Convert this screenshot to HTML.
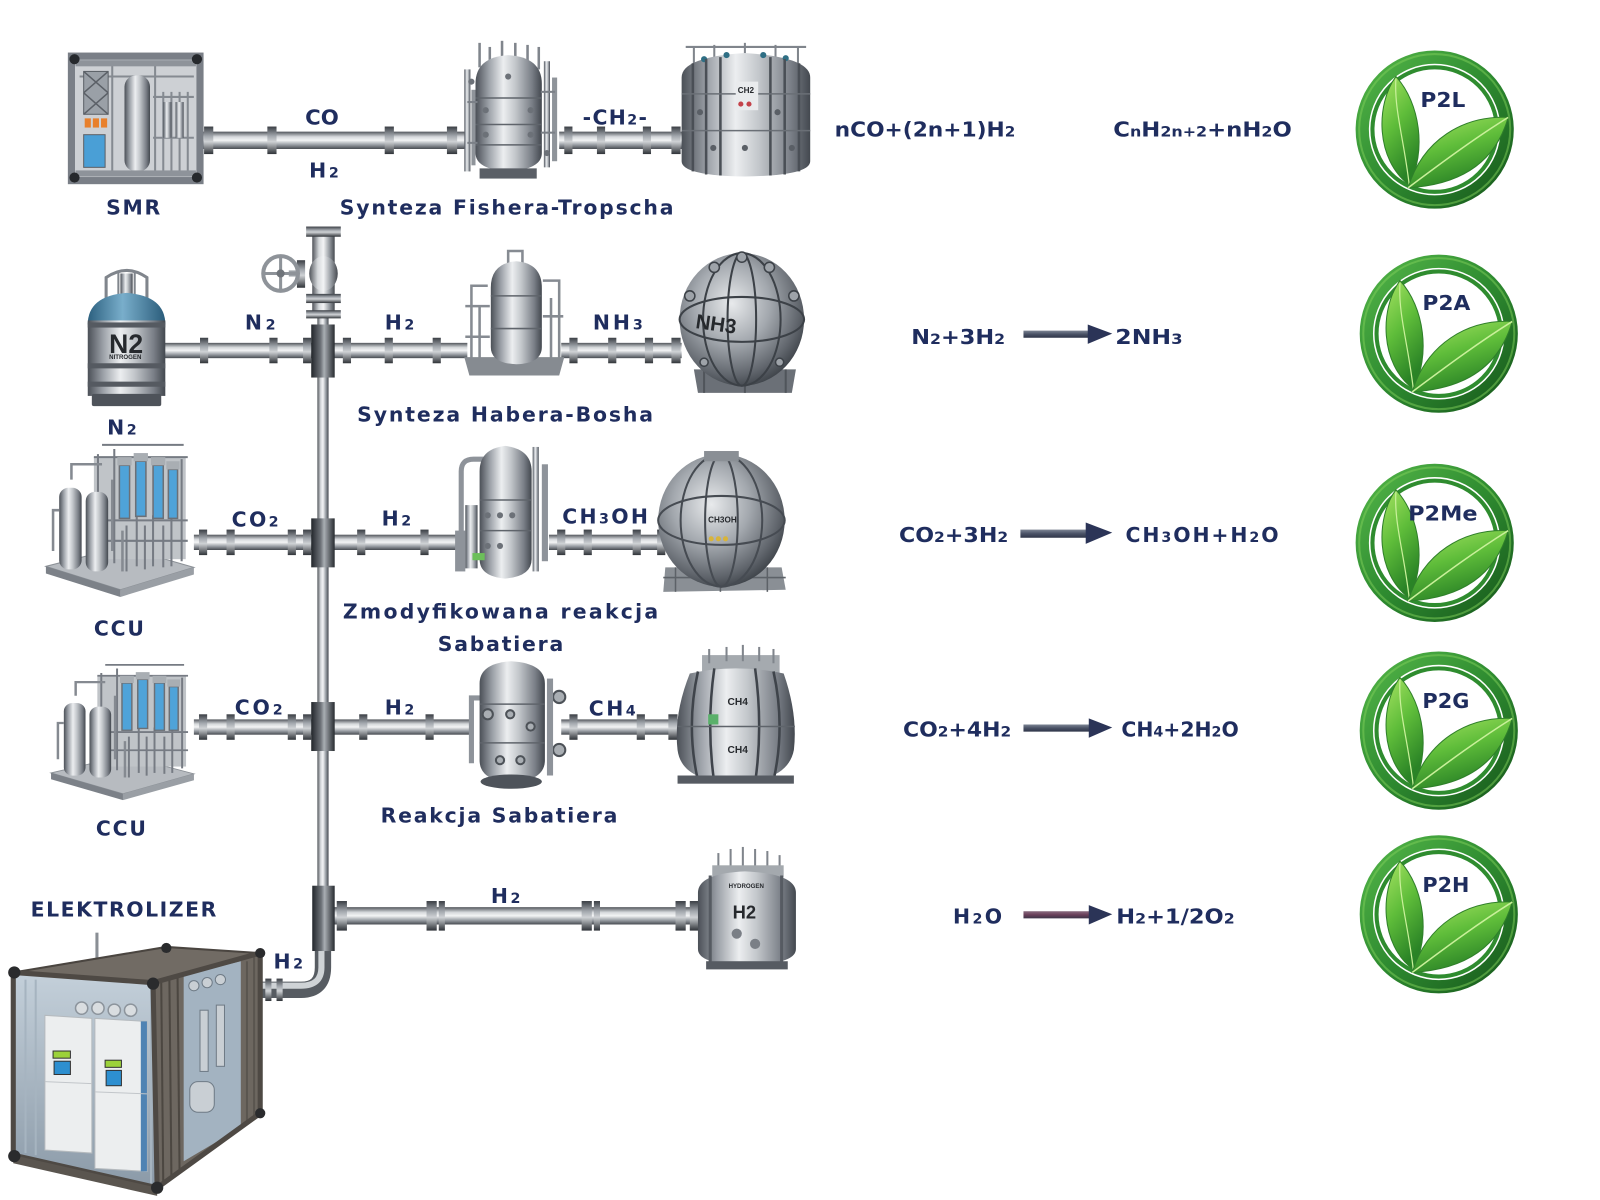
<!DOCTYPE html>
<html><head><meta charset="utf-8">
<style>
html,body{margin:0;padding:0;background:#fff;overflow:hidden;}
svg{display:block;}
.t{font-family:"DejaVu Sans","Liberation Sans",sans-serif;font-weight:bold;fill:#1f2d5e;font-size:20px;}
.s{font-size:14px;}
.m{font-family:"Liberation Sans",Arial,sans-serif;font-weight:bold;fill:#26292d;}
</style></head><body>
<svg width="1600" height="1200" viewBox="0 0 1568 1176" xmlns="http://www.w3.org/2000/svg">
<defs>
 <linearGradient id="pipe" x1="0" y1="0" x2="0" y2="1">
  <stop offset="0" stop-color="#50545a"/><stop offset="0.3" stop-color="#d6d9dc"/><stop offset="0.5" stop-color="#f3f4f5"/><stop offset="0.75" stop-color="#9ba0a6"/><stop offset="1" stop-color="#464a50"/>
 </linearGradient>
 <linearGradient id="pipeV" x1="0" y1="0" x2="1" y2="0">
  <stop offset="0" stop-color="#50545a"/><stop offset="0.3" stop-color="#d6d9dc"/><stop offset="0.5" stop-color="#f3f4f5"/><stop offset="0.75" stop-color="#9ba0a6"/><stop offset="1" stop-color="#464a50"/>
 </linearGradient>
 <linearGradient id="fl" x1="0" y1="0" x2="0" y2="1">
  <stop offset="0" stop-color="#3a3e44"/><stop offset="0.35" stop-color="#a3a8ae"/><stop offset="0.55" stop-color="#cfd2d5"/><stop offset="1" stop-color="#2f3338"/>
 </linearGradient>
 <linearGradient id="tee" x1="0" y1="0" x2="1" y2="0">
  <stop offset="0" stop-color="#22262b"/><stop offset="0.4" stop-color="#6c7177"/><stop offset="0.55" stop-color="#a9aeb3"/><stop offset="1" stop-color="#272b30"/>
 </linearGradient>
 <linearGradient id="cyl" x1="0" y1="0" x2="1" y2="0">
  <stop offset="0" stop-color="#4b5057"/><stop offset="0.2" stop-color="#9ca1a8"/><stop offset="0.42" stop-color="#eceef0"/><stop offset="0.6" stop-color="#c3c7cb"/><stop offset="0.85" stop-color="#7a7f87"/><stop offset="1" stop-color="#43484f"/>
 </linearGradient>
 <radialGradient id="sph" cx="0.42" cy="0.38" r="0.68">
  <stop offset="0" stop-color="#e8eaec"/><stop offset="0.45" stop-color="#a3a8ae"/><stop offset="0.8" stop-color="#60656c"/><stop offset="1" stop-color="#353a40"/>
 </radialGradient>
 <linearGradient id="blue" x1="0" y1="0" x2="1" y2="0">
  <stop offset="0" stop-color="#2c607f"/><stop offset="0.45" stop-color="#79aecb"/><stop offset="1" stop-color="#2a5c7a"/>
 </linearGradient>
 <linearGradient id="ring" x1="0" y1="0" x2="1" y2="1">
  <stop offset="0" stop-color="#53b548"/><stop offset="0.5" stop-color="#2e8b30"/><stop offset="1" stop-color="#185a1c"/>
 </linearGradient>
 <linearGradient id="leaf" x1="0" y1="0" x2="0.4" y2="1">
  <stop offset="0" stop-color="#a6e362"/><stop offset="0.5" stop-color="#5fbd3a"/><stop offset="1" stop-color="#2a8326"/>
 </linearGradient>
 <linearGradient id="arr" x1="0" y1="0" x2="0" y2="1">
  <stop offset="0" stop-color="#7d8594"/><stop offset="0.5" stop-color="#4a5266"/><stop offset="1" stop-color="#2e3548"/>
 </linearGradient>
 <linearGradient id="arrR" x1="0" y1="0" x2="0" y2="1">
  <stop offset="0" stop-color="#8a6d80"/><stop offset="0.5" stop-color="#6a3f5a"/><stop offset="1" stop-color="#3c3448"/>
 </linearGradient>
 <linearGradient id="inside" x1="0" y1="0" x2="0" y2="1">
  <stop offset="0" stop-color="#c4d0da"/><stop offset="1" stop-color="#8b9aa8"/>
 </linearGradient>

 <g id="logo">
  <circle r="71" fill="#fff" stroke="url(#ring)" stroke-width="13"/>
  <circle r="74" fill="none" stroke="#7fd05a" stroke-width="2" opacity="0.5"/>
  <circle r="61" fill="none" stroke="#2f8c2f" stroke-width="4"/>
  <path d="M-25 54 C-58 30,-58 -25,-38 -52 C-14 -26,-8 22,-25 54 Z" fill="url(#leaf)" stroke="#2f7f2a" stroke-width="1"/>
  <path d="M-25 54 C-30 10,-40 -20,-38 -50" fill="none" stroke="#c9f09a" stroke-width="1.2"/>
  <path d="M-26 57 C-12 10,28 -14,72 -12 C60 30,28 54,-26 57 Z" fill="url(#leaf)" stroke="#2f7f2a" stroke-width="1"/>
  <path d="M-26 57 C10 30,40 8,72 -12" fill="none" stroke="#c9f09a" stroke-width="1.5"/>
 </g>

 <g id="ccu">
  <polygon points="45,555 118,578 190,556 120,536" fill="#b7bbc0" stroke="#8b9096"/>
  <polygon points="45,555 118,578 118,585 45,562" fill="#7c8188"/>
  <polygon points="118,578 190,556 190,563 118,585" fill="#9a9fa5"/>
  <rect x="92" y="448" width="90" height="100" fill="#c0c4c8"/>
  <g stroke="#767b83" stroke-width="2">
   <line x1="96" y1="445" x2="96" y2="550"/><line x1="112" y1="440" x2="112" y2="552"/>
   <line x1="178" y1="450" x2="178" y2="550"/><line x1="168" y1="505" x2="168" y2="555"/>
   <line x1="150" y1="505" x2="150" y2="555"/><line x1="134" y1="505" x2="134" y2="555"/>
   <line x1="92" y1="448" x2="184" y2="448"/><line x1="92" y1="510" x2="184" y2="510"/>
   <line x1="92" y1="530" x2="184" y2="530"/><line x1="100" y1="436" x2="180" y2="436"/>
   <line x1="124" y1="515" x2="124" y2="560"/><line x1="142" y1="515" x2="142" y2="558"/><line x1="160" y1="515" x2="160" y2="556"/>
  </g>
  <g fill="#4fa3d9" stroke="#6b7077" stroke-width="1.5">
   <rect x="117" y="456" width="10" height="52"/><rect x="133" y="452" width="10" height="54"/>
   <rect x="150" y="456" width="10" height="52"/><rect x="165" y="460" width="9" height="48"/>
  </g>
  <g fill="#a9aeb3"><rect x="115" y="448" width="14" height="8"/><rect x="131" y="444" width="14" height="8"/><rect x="148" y="448" width="14" height="8"/><rect x="163" y="452" width="13" height="8"/></g>
  <rect x="58" y="478" width="22" height="80" rx="9" fill="url(#cyl)"/>
  <rect x="84" y="482" width="22" height="78" rx="9" fill="url(#cyl)"/>
  <g stroke="#858a91" stroke-width="2.5" fill="none">
   <path d="M52 540 V500 H58"/><path d="M110 470 V540"/><path d="M120 520 V560"/><path d="M70 470 V455 H100"/>
  </g>
 </g>
</defs>

<!-- ================= PIPES ================= -->
<rect x="311" y="300" width="11" height="630" fill="url(#pipeV)"/>
<path d="M316.5 925 V948 Q316.5 970 295 970 H252" fill="none" stroke="#575c62" stroke-width="16"/>
<path d="M315 925 V948 Q315 966 295 966 H252" fill="none" stroke="#cfd3d6" stroke-width="6"/>
<rect x="260" y="959" width="6" height="22" fill="url(#fl)"/><rect x="271" y="959" width="6" height="22" fill="url(#fl)"/>

<rect x="195" y="129" width="262" height="17" fill="url(#pipe)"/>
<rect x="548" y="129" width="122" height="17" fill="url(#pipe)"/>
<g fill="url(#fl)">
 <rect x="200" y="124" width="9" height="27"/><rect x="262" y="124" width="9" height="27"/><rect x="377" y="124" width="9" height="27"/><rect x="438" y="124" width="10" height="27"/>
 <rect x="553" y="124" width="8" height="27"/><rect x="585" y="124" width="8" height="27"/><rect x="630" y="124" width="8" height="27"/><rect x="658" y="124" width="9" height="27"/>
</g>
<rect x="160" y="336" width="298" height="15" fill="url(#pipe)"/>
<rect x="550" y="336" width="118" height="15" fill="url(#pipe)"/>
<g fill="url(#fl)">
 <rect x="196" y="331" width="8" height="25"/><rect x="264" y="331" width="8" height="25"/><rect x="297" y="331" width="8" height="25"/><rect x="336" y="331" width="8" height="25"/><rect x="377" y="331" width="8" height="25"/><rect x="424" y="331" width="8" height="25"/>
 <rect x="558" y="331" width="8" height="25"/><rect x="596" y="331" width="8" height="25"/><rect x="632" y="331" width="8" height="25"/><rect x="658" y="331" width="9" height="25"/>
</g>
<rect x="190" y="524" width="262" height="15" fill="url(#pipe)"/>
<rect x="538" y="524" width="115" height="15" fill="url(#pipe)"/>
<g fill="url(#fl)">
 <rect x="195" y="519" width="8" height="25"/><rect x="222" y="519" width="8" height="25"/><rect x="282" y="519" width="8" height="25"/><rect x="297" y="519" width="8" height="25"/><rect x="350" y="519" width="8" height="25"/><rect x="412" y="519" width="8" height="25"/>
 <rect x="546" y="519" width="8" height="25"/><rect x="572" y="519" width="8" height="25"/><rect x="620" y="519" width="8" height="25"/><rect x="644" y="519" width="8" height="25"/>
</g>
<rect x="190" y="705" width="274" height="15" fill="url(#pipe)"/>
<rect x="550" y="705" width="116" height="15" fill="url(#pipe)"/>
<g fill="url(#fl)">
 <rect x="195" y="700" width="8" height="25"/><rect x="222" y="700" width="8" height="25"/><rect x="282" y="700" width="8" height="25"/><rect x="297" y="700" width="8" height="25"/><rect x="352" y="700" width="8" height="25"/><rect x="417" y="700" width="8" height="25"/>
 <rect x="558" y="700" width="8" height="25"/><rect x="624" y="700" width="8" height="25"/><rect x="655" y="700" width="9" height="25"/>
</g>
<rect x="320" y="889" width="370" height="17" fill="url(#pipe)"/>
<g fill="url(#fl)">
 <rect x="330" y="883" width="10" height="29"/><rect x="418" y="883" width="10" height="29"/><rect x="430" y="883" width="6" height="29"/>
 <rect x="570" y="883" width="10" height="29"/><rect x="582" y="883" width="6" height="29"/><rect x="662" y="883" width="10" height="29"/><rect x="676" y="883" width="10" height="29"/>
</g>
<rect x="305" y="318" width="23" height="52" fill="url(#tee)"/>
<rect x="305" y="508" width="23" height="48" fill="url(#tee)"/>
<rect x="305" y="688" width="23" height="48" fill="url(#tee)"/>
<rect x="306" y="868" width="22" height="64" fill="url(#tee)"/>

<rect x="306" y="230" width="22" height="80" fill="url(#pipeV)"/>
<ellipse cx="317" cy="268" rx="14" ry="17" fill="url(#pipeV)"/>
<rect x="300" y="222" width="34" height="10" fill="url(#fl)"/>
<rect x="300" y="288" width="34" height="9" fill="url(#fl)"/>
<rect x="300" y="304" width="34" height="8" fill="url(#fl)"/>
<rect x="291" y="255" width="8" height="27" fill="url(#fl)"/>
<rect x="283" y="265" width="10" height="6" fill="#9ca1a7"/>
<circle cx="275" cy="268" r="17" fill="none" stroke="#8e9399" stroke-width="4"/>
<g stroke="#8e9399" stroke-width="3"><line x1="258" y1="268" x2="292" y2="268"/><line x1="275" y1="251" x2="275" y2="285"/></g>
<circle cx="275" cy="268" r="4" fill="#6f747a"/>

<!-- ================= EQUIPMENT ================= -->
<g>
 <rect x="70" y="55" width="126" height="122" fill="#cdd0d4"/>
 <g stroke="#858a91" stroke-width="2">
  <line x1="110" y1="62" x2="110" y2="170"/><line x1="152" y1="62" x2="152" y2="170"/><line x1="160" y1="90" x2="160" y2="170"/>
  <line x1="168" y1="90" x2="168" y2="170"/><line x1="176" y1="90" x2="176" y2="170"/><line x1="184" y1="90" x2="184" y2="170"/>
  <line x1="150" y1="95" x2="190" y2="95"/><line x1="150" y1="135" x2="190" y2="135"/><line x1="78" y1="75" x2="190" y2="75"/>
 </g>
 <rect x="160" y="100" width="8" height="35" fill="url(#cyl)"/><rect x="172" y="100" width="8" height="35" fill="url(#cyl)"/>
 <rect x="82" y="70" width="24" height="42" fill="#9aa0a7" stroke="#5b6067"/>
 <path d="M82 70 L106 91 M106 70 L82 91 M82 91 L106 112 M106 91 L82 112" stroke="#5b6067" stroke-width="1.5"/>
 <rect x="83" y="116" width="6" height="9" fill="#e8802c"/><rect x="91" y="116" width="6" height="9" fill="#e8802c"/><rect x="99" y="116" width="6" height="9" fill="#e8802c"/>
 <rect x="82" y="132" width="21" height="32" fill="#4a9fd6" stroke="#5b6067"/>
 <rect x="122" y="74" width="25" height="94" rx="11" fill="url(#cyl)"/>
 <rect x="70" y="55" width="126" height="122" fill="none" stroke="#7a7f87" stroke-width="7"/>
 <rect x="74" y="59" width="118" height="6" fill="#8e939a"/><rect x="74" y="167" width="118" height="6" fill="#8e939a"/>
 <g fill="#26292d"><circle cx="73" cy="58" r="5"/><circle cx="193" cy="58" r="5"/><circle cx="73" cy="174" r="5"/><circle cx="193" cy="174" r="5"/></g>
</g>

<g>
 <g stroke="#80858c" stroke-width="2.5">
  <line x1="470" y1="42" x2="470" y2="66"/><line x1="480" y1="46" x2="480" y2="60"/><line x1="492" y1="40" x2="492" y2="58"/><line x1="505" y1="42" x2="505" y2="58"/><line x1="517" y1="44" x2="517" y2="60"/><line x1="528" y1="46" x2="528" y2="68"/>
 </g>
 <rect x="455" y="68" width="6" height="100" fill="url(#cyl)"/><rect x="462" y="88" width="4" height="74" fill="#8f949a"/>
 <rect x="533" y="60" width="6" height="104" fill="url(#cyl)"/><rect x="541" y="76" width="5" height="82" fill="#8f949a"/>
 <path d="M466 82 Q466 56 498 54 Q531 56 531 82 V150 Q531 166 498 168 Q466 166 466 150 Z" fill="url(#cyl)"/>
 <g stroke="#5f646b" stroke-width="1.5"><line x1="466" y1="96" x2="531" y2="96"/><line x1="466" y1="122" x2="531" y2="122"/><line x1="466" y1="142" x2="531" y2="142"/></g>
 <g fill="#6c7178"><circle cx="476" cy="108" r="3"/><circle cx="520" cy="108" r="3"/><circle cx="476" cy="132" r="3"/><circle cx="520" cy="132" r="3"/><circle cx="498" cy="75" r="3"/><circle cx="462" cy="80" r="3"/><circle cx="536" cy="150" r="3"/></g>
 <g stroke="#7b8087" stroke-width="2" fill="none"><path d="M458 100 H468"/><path d="M458 140 H468"/><path d="M530 90 H544"/><path d="M530 130 H544"/></g>
 <rect x="470" y="165" width="56" height="10" fill="#5a5f66"/>
</g>

<g>
 <line x1="672" y1="46" x2="790" y2="46" stroke="#80858c" stroke-width="2"/>
 <g stroke="#80858c" stroke-width="2"><line x1="680" y1="46" x2="680" y2="62"/><line x1="700" y1="44" x2="700" y2="58"/><line x1="730" y1="42" x2="730" y2="56"/><line x1="760" y1="44" x2="760" y2="58"/><line x1="782" y1="46" x2="782" y2="62"/></g>
 <path d="M668 76 Q668 56 730 52 Q794 56 794 76 V158 Q794 172 730 173 Q668 172 668 158 Z" fill="url(#cyl)"/>
 <g fill="#2f6f85"><circle cx="690" cy="58" r="3"/><circle cx="712" cy="54" r="3"/><circle cx="748" cy="54" r="3"/><circle cx="770" cy="57" r="3"/></g>
 <g stroke="#4a4f56" stroke-width="2.5"><line x1="679" y1="62" x2="679" y2="168"/><line x1="692" y1="58" x2="692" y2="171"/><line x1="706" y1="56" x2="706" y2="172"/><line x1="755" y1="56" x2="755" y2="172"/><line x1="769" y1="58" x2="769" y2="171"/><line x1="783" y1="62" x2="783" y2="168"/></g>
 <g stroke="#6a6f76" stroke-width="1.5"><line x1="668" y1="92" x2="794" y2="92"/><line x1="668" y1="128" x2="794" y2="128"/></g>
 <g fill="#5a5f66"><circle cx="686" cy="110" r="3"/><circle cx="699" cy="145" r="3"/><circle cx="762" cy="110" r="3"/><circle cx="776" cy="145" r="3"/><circle cx="730" cy="145" r="3"/></g>
 <rect x="721" y="80" width="22" height="28" fill="#e9ebed"/>
 <text class="m" x="723" y="91" font-size="8">CH2</text>
 <g fill="#c4424a"><circle cx="726" cy="102" r="2.5"/><circle cx="734" cy="102" r="2.5"/></g>
</g>

<g>
 <path d="M104 292 V272 Q124 258 144 272 V292" fill="none" stroke="#80858c" stroke-width="3"/>
 <line x1="116" y1="292" x2="116" y2="266" stroke="#80858c" stroke-width="2"/><line x1="132" y1="292" x2="132" y2="266" stroke="#80858c" stroke-width="2"/>
 <rect x="118" y="268" width="12" height="20" fill="url(#cyl)"/>
 <path d="M86 318 Q86 290 124 287 Q162 290 162 318 Z" fill="url(#blue)"/>
 <rect x="86" y="314" width="76" height="74" fill="url(#cyl)"/>
 <rect x="86" y="316" width="76" height="5" fill="#555a61"/>
 <rect x="86" y="356" width="76" height="5" fill="#555a61"/>
 <rect x="86" y="374" width="76" height="5" fill="#555a61"/>
 <text class="m" x="107" y="346" font-size="26">N2</text>
 <text class="m" x="107" y="352" font-size="6">NITROGEN</text>
 <rect x="90" y="386" width="68" height="12" rx="2" fill="#4e535a"/>
</g>

<g>
 <g stroke="#868b92" stroke-width="2.5" fill="none">
  <path d="M462 355 V280 H478"/><path d="M470 355 V300"/><path d="M548 355 V275 H532"/><path d="M540 355 V292"/><path d="M498 262 V246 H512 V262"/>
  <path d="M456 300 H480"/><path d="M456 330 H480"/><path d="M532 310 H552"/>
 </g>
 <polygon points="455,350 553,350 548,368 460,368" fill="#868b91"/>
 <path d="M481 282 Q481 258 506 256 Q531 258 531 282 V340 Q531 356 506 357 Q481 356 481 340 Z" fill="url(#cyl)"/>
 <g stroke="#5f646b" stroke-width="1.5"><line x1="481" y1="290" x2="531" y2="290"/><line x1="481" y1="322" x2="531" y2="322"/></g>
</g>

<g>
 <polygon points="680,362 780,362 776,385 684,385" fill="#6b7077"/>
 <g stroke="#50555b" stroke-width="2"><line x1="690" y1="362" x2="690" y2="385"/><line x1="730" y1="362" x2="730" y2="385"/><line x1="770" y1="362" x2="770" y2="385"/></g>
 <ellipse cx="727" cy="313" rx="61" ry="65" fill="url(#sph)"/>
 <g fill="none" stroke="#3c4147" stroke-width="2">
  <ellipse cx="727" cy="313" rx="38" ry="65"/><ellipse cx="727" cy="313" rx="14" ry="65"/><ellipse cx="727" cy="313" rx="61" ry="22"/>
 </g>
 <g fill="#9ea3a9" stroke="#3c4147" stroke-width="1.5"><circle cx="700" cy="262" r="5"/><circle cx="727" cy="252" r="5"/><circle cx="754" cy="262" r="5"/><circle cx="676" cy="290" r="5"/><circle cx="778" cy="290" r="5"/><circle cx="690" cy="355" r="4"/><circle cx="764" cy="355" r="4"/></g>
 <text class="m" x="682" y="324" font-size="20" transform="rotate(8 700 316)">NH3</text>
</g>

<use href="#ccu"/>
<use href="#ccu" transform="translate(50 648) scale(0.966 0.89) translate(-45 -432)"/>

<g>
 <path d="M452 540 V462 Q452 450 464 450 H476" fill="none" stroke="#8e939a" stroke-width="5"/>
 <rect x="456" y="495" width="12" height="62" fill="url(#cyl)"/>
 <rect x="446" y="520" width="10" height="40" fill="#8e939a"/>
 <path d="M470 462 Q470 440 495 437 Q521 440 521 462 V548 Q521 565 495 567 Q470 565 470 548 Z" fill="url(#cyl)"/>
 <g stroke="#5f646b" stroke-width="1.5"><line x1="470" y1="490" x2="521" y2="490"/><line x1="470" y1="520" x2="521" y2="520"/></g>
 <g fill="#6c7178"><circle cx="478" cy="505" r="3"/><circle cx="490" cy="505" r="3"/><circle cx="502" cy="505" r="3"/><circle cx="478" cy="535" r="3"/><circle cx="490" cy="535" r="3"/></g>
 <rect x="522" y="438" width="6" height="122" fill="url(#cyl)"/><rect x="531" y="455" width="6" height="95" fill="#8e939a"/>
 <rect x="463" y="542" width="12" height="7" fill="#6cbf5a"/>
</g>

<g>
 <polygon points="652,556 766,556 770,578 650,580" fill="#8a8f95"/>
 <g stroke="#5d6268" stroke-width="1.5"><line x1="650" y1="566" x2="770" y2="566"/><line x1="662" y1="556" x2="662" y2="580"/><line x1="706" y1="556" x2="706" y2="580"/><line x1="752" y1="556" x2="752" y2="580"/></g>
 <ellipse cx="707" cy="510" rx="62" ry="65" fill="url(#sph)"/>
 <g fill="none" stroke="#464b52" stroke-width="2">
  <ellipse cx="707" cy="510" rx="40" ry="65"/><ellipse cx="707" cy="510" rx="16" ry="65"/><ellipse cx="707" cy="510" rx="62" ry="24"/>
 </g>
 <rect x="690" y="442" width="34" height="10" fill="#8a8f95"/>
 <text class="m" x="694" y="512" font-size="8">CH3OH</text>
 <g fill="#d8b43a"><circle cx="697" cy="528" r="2.5"/><circle cx="704" cy="528" r="2.5"/><circle cx="711" cy="528" r="2.5"/></g>
</g>

<g>
 <path d="M462 748 V684 H476" fill="none" stroke="#8e939a" stroke-width="5"/>
 <path d="M470 670 Q470 650 501 648 Q534 650 534 670 V745 Q534 765 501 767 Q470 765 470 745 Z" fill="url(#cyl)"/>
 <g stroke="#5f646b" stroke-width="1.5"><line x1="470" y1="690" x2="534" y2="690"/><line x1="470" y1="728" x2="534" y2="728"/></g>
 <g fill="#a9aeb3" stroke="#4d5258" stroke-width="2"><circle cx="548" cy="683" r="6"/><circle cx="548" cy="735" r="6"/><circle cx="478" cy="700" r="5"/><circle cx="490" cy="745" r="4"/><circle cx="510" cy="745" r="4"/><circle cx="500" cy="700" r="4"/><circle cx="520" cy="712" r="4"/></g>
 <rect x="536" y="665" width="6" height="95" fill="#8e939a"/>
 <ellipse cx="501" cy="766" rx="30" ry="7" fill="#4e535a"/>
</g>

<g>
 <rect x="688" y="642" width="76" height="22" fill="#a5aaaf"/>
 <g stroke="#80858c" stroke-width="2"><line x1="695" y1="636" x2="695" y2="650"/><line x1="712" y1="634" x2="712" y2="648"/><line x1="728" y1="632" x2="728" y2="648"/><line x1="744" y1="634" x2="744" y2="648"/><line x1="758" y1="636" x2="758" y2="650"/></g>
 <path d="M676 660 Q720 650 768 660 Q782 700 778 735 Q772 766 720 767 Q668 766 664 735 Q660 700 676 660 Z" fill="url(#cyl)"/>
 <g stroke="#3f444b" stroke-width="2.5" fill="none">
  <path d="M684 658 Q672 712 684 765"/><path d="M700 655 Q692 712 700 767"/><path d="M740 655 Q748 712 740 767"/><path d="M758 658 Q770 712 758 765"/>
 </g>
 <line x1="664" y1="712" x2="779" y2="712" stroke="#5f646b" stroke-width="1.5"/>
 <text class="m" x="713" y="691" font-size="10">CH4</text>
 <text class="m" x="713" y="738" font-size="10">CH4</text>
 <rect x="694" y="700" width="10" height="10" fill="#5ab06a"/>
 <rect x="664" y="760" width="114" height="8" fill="#565b62"/>
</g>

<g>
 <g stroke="#80858c" stroke-width="2"><line x1="704" y1="836" x2="704" y2="858"/><line x1="716" y1="832" x2="716" y2="856"/><line x1="728" y1="830" x2="728" y2="856"/><line x1="740" y1="832" x2="740" y2="856"/><line x1="752" y1="834" x2="752" y2="856"/><line x1="764" y1="838" x2="764" y2="860"/></g>
 <rect x="698" y="848" width="70" height="12" fill="#a4a9ae"/>
 <path d="M684 875 Q684 856 730 854 Q780 856 780 875 V930 Q780 945 730 946 Q684 945 684 930 Z" fill="url(#cyl)"/>
 <g stroke="#565b62" stroke-width="3"><line x1="696" y1="858" x2="696" y2="944"/><line x1="766" y1="858" x2="766" y2="944"/></g>
 <text class="m" x="718" y="900" font-size="18">H2</text>
 <text class="m" x="714" y="870" font-size="6">HYDROGEN</text>
 <g fill="#7a7f86"><circle cx="722" cy="915" r="5"/><circle cx="740" cy="925" r="5"/></g>
 <rect x="692" y="942" width="80" height="8" fill="#565b62"/>
</g>

<g>
 <line x1="95" y1="914" x2="95" y2="942" stroke="#8a8f95" stroke-width="3"/>
 <polygon points="13,953 150,963 154,1164 13,1132" fill="url(#inside)"/>
 <g stroke="#a6b4c0" stroke-width="2"><line x1="25" y1="960" x2="25" y2="1130"/><line x1="35" y1="960" x2="35" y2="1132"/><line x1="148" y1="965" x2="148" y2="1160"/></g>
 <g fill="#d9dde0" stroke="#8c949c" stroke-width="1.5"><circle cx="80" cy="988" r="6"/><circle cx="96" cy="988" r="6"/><circle cx="112" cy="990" r="6"/><circle cx="128" cy="990" r="6"/></g>
 <polygon points="44,995 90,998 90,1130 44,1127" fill="#eceeef" stroke="#b5babe"/>
 <polygon points="93,998 144,1001 144,1148 93,1145" fill="#eceeef" stroke="#b5babe"/>
 <polygon points="138,1001 144,1001 144,1148 138,1148" fill="#4f83b3"/>
 <line x1="44" y1="1060" x2="90" y2="1062" stroke="#c2c6ca"/><line x1="93" y1="1070" x2="144" y2="1072" stroke="#c2c6ca"/>
 <rect x="52" y="1030" width="17" height="7" fill="#9cd23a" stroke="#333"/>
 <rect x="53" y="1040" width="16" height="13" fill="#2d8fd0" stroke="#333"/>
 <rect x="103" y="1039" width="16" height="7" fill="#9cd23a" stroke="#333"/>
 <rect x="104" y="1049" width="15" height="15" fill="#2d8fd0" stroke="#333"/>
 <polygon points="150,963 255,934 255,1091 154,1164" fill="#6d6760"/>
 <g stroke="#4c4741" stroke-width="2"><line x1="158" y1="962" x2="160" y2="1160"/><line x1="166" y1="960" x2="168" y2="1155"/><line x1="174" y1="958" x2="176" y2="1150"/></g>
 <polygon points="180,956 236,942 236,1105 180,1138" fill="#a3b3c1"/>
 <g fill="#c9cfd4" stroke="#6f7b86" stroke-width="1"><circle cx="190" cy="966" r="5"/><circle cx="203" cy="963" r="5"/><circle cx="216" cy="960" r="5"/><rect x="186" y="1060" width="24" height="30" rx="8"/><rect x="196" y="990" width="8" height="60"/><rect x="212" y="985" width="8" height="60"/></g>
 <g stroke="#5a554f" stroke-width="2"><line x1="242" y1="942" x2="242" y2="1100"/><line x1="249" y1="938" x2="249" y2="1095"/></g>
 <polygon points="13,953 163,928 255,934 150,963" fill="#716b64" stroke="#4a4540" stroke-width="2"/>
 <polyline points="13,953 150,963 154,1164 13,1132 13,953" fill="none" stroke="#4e4944" stroke-width="5"/>
 <polyline points="150,963 255,934 255,1091 154,1164" fill="none" stroke="#4e4944" stroke-width="5"/>
 <polygon points="13,1132 154,1164 154,1172 13,1140" fill="#5a554f"/>
 <g fill="#2a2b2d"><circle cx="14" cy="953" r="6"/><circle cx="150" cy="964" r="6"/><circle cx="255" cy="934" r="5"/><circle cx="163" cy="929" r="5"/><circle cx="14" cy="1133" r="6"/><circle cx="154" cy="1164" r="6"/><circle cx="255" cy="1091" r="5"/></g>
</g>

<!-- ================= LOGOS ================= -->
<use href="#logo" transform="translate(1406 127)"/>
<use href="#logo" transform="translate(1410 327)"/>
<use href="#logo" transform="translate(1406 532)"/>
<use href="#logo" transform="translate(1410 716)"/>
<use href="#logo" transform="translate(1410 896)"/>

<!-- ================= ARROWS ================= -->
<rect x="1003" y="324" width="66" height="7" fill="url(#arr)"/><polygon points="1066,318 1090,327 1066,337" fill="#2b3457"/>
<rect x="1000" y="519" width="68" height="8" fill="url(#arr)"/><polygon points="1064,512 1090,522 1064,533" fill="#2b3457"/>
<rect x="1003" y="710" width="67" height="7" fill="url(#arr)"/><polygon points="1067,704 1090,713 1067,723" fill="#2b3457"/>
<rect x="1003" y="893" width="67" height="7" fill="url(#arrR)"/><polygon points="1067,887 1090,896 1067,906" fill="#2b3457"/>

<!-- ================= TEXT ================= -->
<text class="t" x="299" y="122" textLength="33" lengthAdjust="spacingAndGlyphs">CO</text>
<text class="t" x="303" y="174" textLength="29" lengthAdjust="spacing">H<tspan class="s">2</tspan></text>
<text class="t" x="571" y="122" textLength="63" lengthAdjust="spacing">-CH<tspan class="s">2</tspan>-</text>
<text class="t" x="104" y="210" textLength="53" lengthAdjust="spacing">SMR</text>
<text class="t" x="333" y="210" textLength="327" lengthAdjust="spacing">Synteza Fishera-Tropscha</text>
<text class="t" x="818" y="134" textLength="177" lengthAdjust="spacingAndGlyphs">nCO+(2n+1)H<tspan class="s">2</tspan></text>
<text class="t" x="1091" y="134" textLength="175" lengthAdjust="spacingAndGlyphs">C<tspan class="s">n</tspan>H<tspan class="s">2n+2</tspan>+nH<tspan class="s">2</tspan>O</text>

<text class="t" x="240" y="323" textLength="30" lengthAdjust="spacing">N<tspan class="s">2</tspan></text>
<text class="t" x="377" y="323" textLength="29" lengthAdjust="spacing">H<tspan class="s">2</tspan></text>
<text class="t" x="581" y="323" textLength="49" lengthAdjust="spacing">NH<tspan class="s">3</tspan></text>
<text class="t" x="105" y="426" textLength="29" lengthAdjust="spacing">N<tspan class="s">2</tspan></text>
<text class="t" x="350" y="413" textLength="290" lengthAdjust="spacing">Synteza Habera-Bosha</text>
<text class="t" x="893" y="337" textLength="92" lengthAdjust="spacingAndGlyphs">N<tspan class="s">2</tspan>+3H<tspan class="s">2</tspan></text>
<text class="t" x="1093" y="337" textLength="66" lengthAdjust="spacingAndGlyphs">2NH<tspan class="s">3</tspan></text>

<text class="t" x="227" y="516" textLength="46" lengthAdjust="spacing">CO<tspan class="s">2</tspan></text>
<text class="t" x="374" y="515" textLength="29" lengthAdjust="spacing">H<tspan class="s">2</tspan></text>
<text class="t" x="551" y="513" textLength="84" lengthAdjust="spacing">CH<tspan class="s">3</tspan>OH</text>
<text class="t" x="92" y="623" textLength="49" lengthAdjust="spacing">CCU</text>
<text class="t" x="336" y="606" textLength="309" lengthAdjust="spacing">Zmodyfikowana reakcja</text>
<text class="t" x="429" y="638" textLength="123" lengthAdjust="spacing">Sabatiera</text>
<text class="t" x="881" y="531" textLength="107" lengthAdjust="spacingAndGlyphs">CO<tspan class="s">2</tspan>+3H<tspan class="s">2</tspan></text>
<text class="t" x="1103" y="531" textLength="150" lengthAdjust="spacing">CH<tspan class="s">3</tspan>OH+H<tspan class="s">2</tspan>O</text>

<text class="t" x="230" y="700" textLength="47" lengthAdjust="spacing">CO<tspan class="s">2</tspan></text>
<text class="t" x="377" y="700" textLength="29" lengthAdjust="spacing">H<tspan class="s">2</tspan></text>
<text class="t" x="577" y="701" textLength="46" lengthAdjust="spacing">CH<tspan class="s">4</tspan></text>
<text class="t" x="94" y="819" textLength="49" lengthAdjust="spacing">CCU</text>
<text class="t" x="373" y="806" textLength="232" lengthAdjust="spacing">Reakcja Sabatiera</text>
<text class="t" x="885" y="722" textLength="106" lengthAdjust="spacingAndGlyphs">CO<tspan class="s">2</tspan>+4H<tspan class="s">2</tspan></text>
<text class="t" x="1099" y="722" textLength="115" lengthAdjust="spacingAndGlyphs">CH<tspan class="s">4</tspan>+2H<tspan class="s">2</tspan>O</text>

<text class="t" x="30" y="898" textLength="182" lengthAdjust="spacing">ELEKTROLIZER</text>
<text class="t" x="481" y="885" textLength="29" lengthAdjust="spacing">H<tspan class="s">2</tspan></text>
<text class="t" x="268" y="949" textLength="29" lengthAdjust="spacing">H<tspan class="s">2</tspan></text>
<text class="t" x="934" y="905" textLength="48" lengthAdjust="spacing">H<tspan class="s">2</tspan>O</text>
<text class="t" x="1094" y="905" textLength="116" lengthAdjust="spacingAndGlyphs">H<tspan class="s">2</tspan>+1/2O<tspan class="s">2</tspan></text>

<text class="t" x="1392" y="105" textLength="44" lengthAdjust="spacingAndGlyphs">P2L</text>
<text class="t" x="1394" y="304" textLength="47" lengthAdjust="spacingAndGlyphs">P2A</text>
<text class="t" x="1380" y="510" textLength="68" lengthAdjust="spacingAndGlyphs">P2Me</text>
<text class="t" x="1394" y="694" textLength="46" lengthAdjust="spacingAndGlyphs">P2G</text>
<text class="t" x="1394" y="874" textLength="46" lengthAdjust="spacingAndGlyphs">P2H</text>
</svg>
</body></html>
